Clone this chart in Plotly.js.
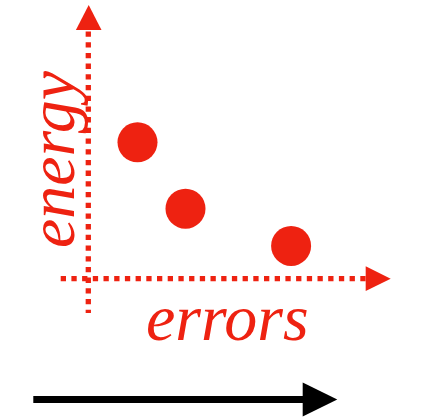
<!DOCTYPE html>
<html>
<head>
<meta charset="utf-8">
<script src="https://cdn.plot.ly/plotly-3.0.1.min.js"></script>
<style>html,body{margin:0;padding:0;background:#fff;}#chart{width:421px;height:418px;}</style>
</head>
<body>
<div id="chart"></div>
<script>
// Data (one unit = 40 px; origin at the axes' crossing)
const ERRORS = [1.23, 2.43, 5.07];
const ENERGY = [3.41, 1.75, 0.82];
const X_LABEL = 'errors';
const Y_LABEL = 'energy';

const RED = '#EE2211';
const BLACK = '#000000';
const X_RANGE = [-2.2075, 8.3175];
const Y_RANGE = [-3.4825, 6.9675];

const trace = {
  type: 'scatter', mode: 'markers',
  x: ERRORS, y: ENERGY,
  marker: {size: 40, color: RED, line: {width: 0}},
  hoverinfo: 'skip', showlegend: false
};

const dotted = {color: RED, width: 5.3, dash: '5.3px,5.4px'};
const shapes = [
  {type: 'line', xref: 'x', yref: 'y', x0: 0, x1: 0, y0: 6.18, y1: -0.86, line: dotted},
  {type: 'line', xref: 'x', yref: 'y', x0: -0.69, x1: 6.935, y0: 0, y1: 0, line: dotted},
  {type: 'path', xref: 'x', yref: 'y', path: 'M -0.31,6.2175 L 0.33,6.2175 L 0.01,6.8425 Z', fillcolor: RED, line: {width: 0}},
  {type: 'path', xref: 'x', yref: 'y', path: 'M 6.935,0.31 L 6.935,-0.31 L 7.56,0 Z', fillcolor: RED, line: {width: 0}},
  {type: 'line', xref: 'x', yref: 'y', x0: -1.375, x1: 5.37, y0: -3.02, y1: -3.02, line: {color: BLACK, width: 7}},
  {type: 'path', xref: 'x', yref: 'y', path: 'M 5.36,-2.5975 L 5.36,-3.4425 L 6.225,-3.02 Z', fillcolor: BLACK, line: {width: 0}}
];

const labelFont = {family: 'Liberation Serif', size: 66, color: RED, style: 'italic'};
const annotations = [
  {xref: 'x', yref: 'y', x: 3.4675, y: -0.98, text: X_LABEL, showarrow: false, xanchor: 'center', yanchor: 'middle', font: labelFont},
  {xref: 'x', yref: 'y', x: -0.92, y: 2.98, text: Y_LABEL, showarrow: false, textangle: -90, xanchor: 'center', yanchor: 'middle', font: labelFont}
];

const axisCommon = {visible: false, showgrid: false, zeroline: false, showticklabels: false, fixedrange: true};
const layout = {
  width: 421, height: 418,
  margin: {l: 0, r: 0, t: 0, b: 0, pad: 0},
  paper_bgcolor: '#ffffff', plot_bgcolor: '#ffffff',
  xaxis: Object.assign({range: X_RANGE}, axisCommon),
  yaxis: Object.assign({range: Y_RANGE}, axisCommon),
  shapes: shapes,
  annotations: annotations,
  showlegend: false
};

Plotly.newPlot('chart', [trace], layout, {displayModeBar: false, staticPlot: true});
</script>
</body>
</html>
